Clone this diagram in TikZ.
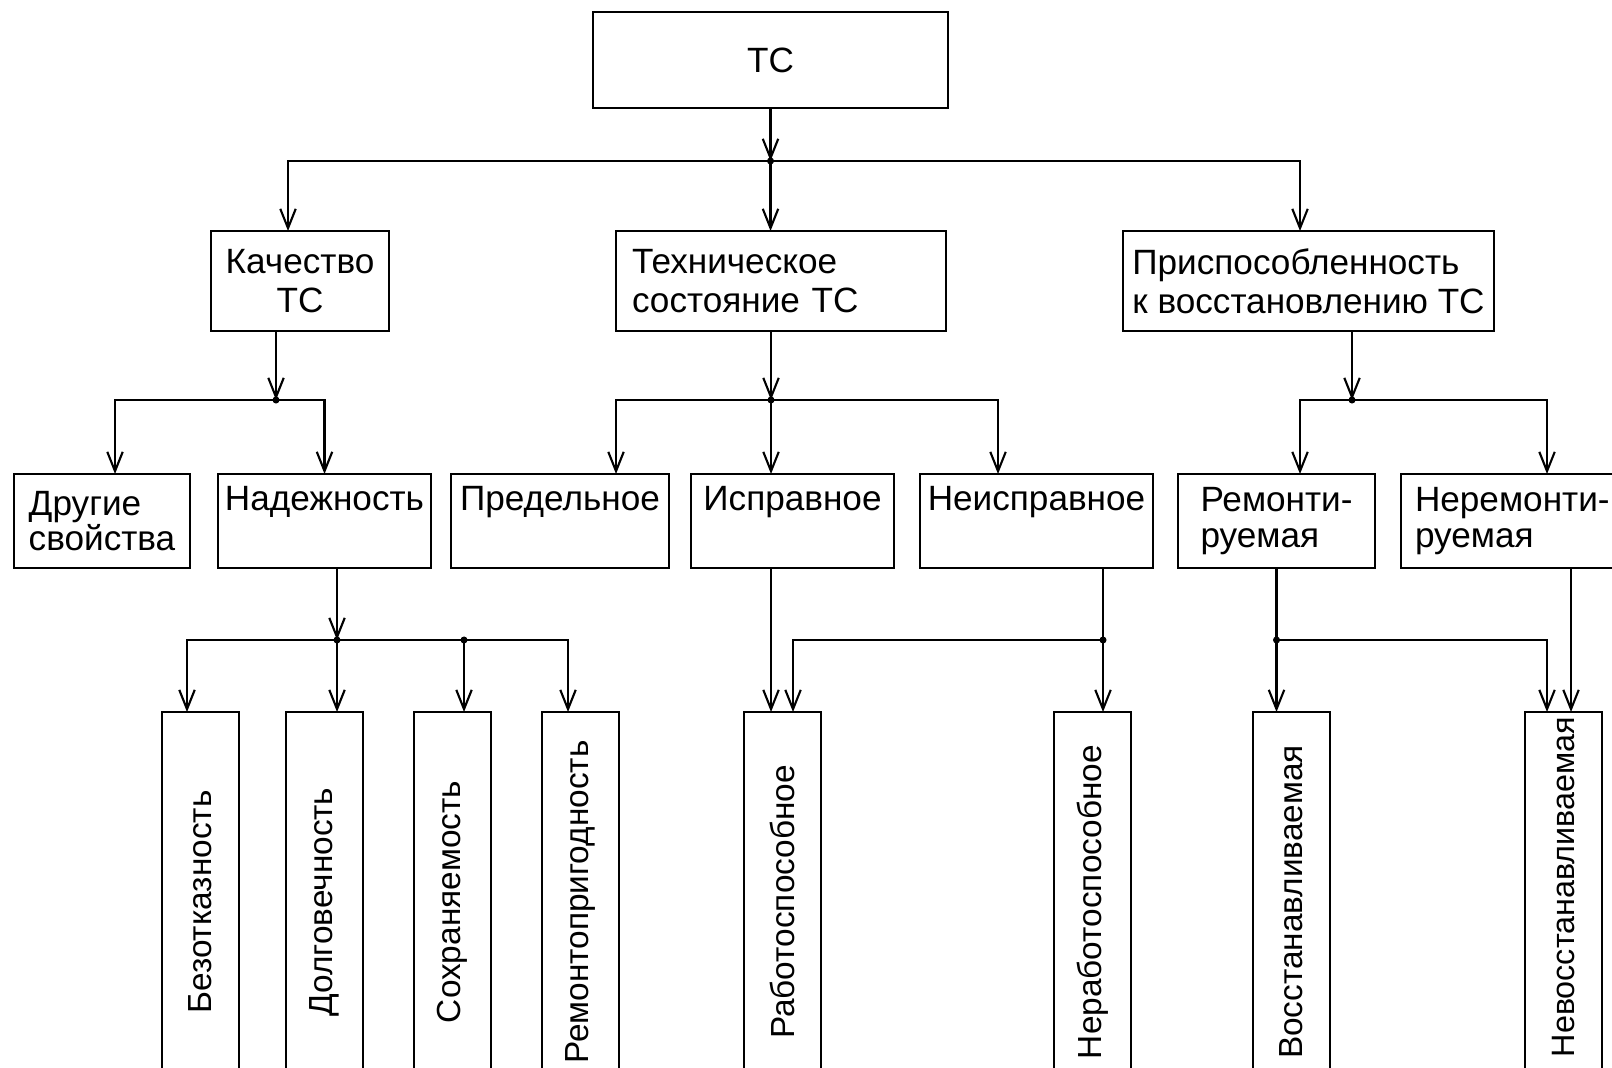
\documentclass[tikz,border=0pt]{standalone}
\usepackage{fontspec}
\setmainfont{Liberation Sans}
\usetikzlibrary{positioning,arrows.meta}

\begin{document}
\begin{tikzpicture}[
    blok/.style={draw, line width=0.6pt, inner sep=0pt, outer sep=0pt, font=\fontsize{10}{11}\selectfont},
    uroven2/.style={blok, minimum height=1cm},
    uroven3/.style={blok, minimum height=0.94cm, font=\fontsize{10}{10}\selectfont},
    stolb/.style={blok, minimum width=0.77cm, minimum height=3.8cm, font=\fontsize{9.5}{10}\selectfont},
    strelka/.style={line width=0.6pt, -{Straight Barb[length=5.5pt,width=4.4pt]}}
]
    \useasboundingbox (0,0) rectangle (16.12,10.67);

    % Top node
    \node [blok, minimum width=3.55cm, minimum height=0.96cm] (ts) at (7.705,10.07) {ТС};

    % Second level - positioned below top node
    \node [uroven2, minimum width=1.78cm, align=center, below left=1.23cm and 2.04cm of ts] (kach) {Качество\\ТС};
    \node [uroven2, text width=2.98cm, inner xsep=0.16cm, align=left, right=2.27cm of kach] (tech) {Техническое\\состояние ТС};
    \node [uroven2, minimum width=3.71cm, align=left, right=1.77cm of tech] (prisp) {Приспособленность\\к восстановлению ТС};

    % Third level - a row of boxes
    \node [uroven3, minimum width=1.76cm, align=left, below left=1.43cm and 0.21cm of kach] (drug) {Другие\\свойства};
    \node [uroven3, minimum width=2.13cm, align=center, right=0.28cm of drug] (nadezh) {Надежность\\\strut};
    \node [uroven3, minimum width=2.18cm, align=center, right=0.20cm of nadezh] (predel) {Предельное\\\strut};
    \node [uroven3, minimum width=2.03cm, align=center, right=0.22cm of predel] (isprav) {Исправное\\\strut};
    \node [uroven3, minimum width=2.33cm, align=center, right=0.26cm of isprav] (neisprav) {Неисправное\\\strut};
    \node [uroven3, minimum width=1.97cm, align=left, right=0.25cm of neisprav] (remont) {Ремонти-\\руемая};
    \node [uroven3, text width=1.97cm, inner xsep=0.14cm, align=left, right=0.26cm of remont] (neremont) {Неремонти-\\руемая};

    % Bottom level - tall boxes with turned text
    \node [stolb, below=1.44cm of nadezh] (dolg) {\rotatebox{90}{Долговечность}};
    \node [stolb, left=0.47cm of dolg] (bezot) {\rotatebox{90}{Безотказность}};
    \node [stolb, right=0.51cm of dolg] (sokhr) {\rotatebox{90}{Сохраняемость}};
    \node [stolb, right=0.51cm of sokhr] (remontopr) {\rotatebox{90}{Ремонтопригодность}};
    \node [stolb, right=1.25cm of remontopr] (rabot) {\rotatebox{90}{Работоспособное}};
    \node [stolb, right=2.33cm of rabot] (nerabot) {\rotatebox{90}{Неработоспособное}};
    \node [stolb, right=1.22cm of nerabot] (vosst) {\rotatebox{90}{Восстанавливаемая}};
    \node [stolb, font=\fontsize{9.2}{10}\selectfont, right=1.95cm of vosst] (nevosst) {\rotatebox{90}{\hspace{0.3cm}Невосстанавливаемая}};

    % Branch points on the buses
    \coordinate (j0) at ([yshift=-0.53cm]ts.south);
    \coordinate (j1) at ([xshift=-0.24cm, yshift=-0.69cm]kach.south);
    \coordinate (j2) at ([xshift=-0.10cm, yshift=-0.69cm]tech.south);
    \coordinate (j3) at ([xshift=0.435cm, yshift=-0.69cm]prisp.south);
    \coordinate (j4) at ([xshift=0.125cm, yshift=-0.72cm]nadezh.south);
    \coordinate (j5) at ([xshift=1.27cm]j4);
    \coordinate (j6) at ([xshift=0.665cm, yshift=-0.72cm]neisprav.south);
    \coordinate (j7) at ([yshift=-0.72cm]remont.south);
    \coordinate (r1) at ([xshift=-0.115cm]rabot.north);
    \coordinate (r2) at ([xshift=0.075cm]nevosst.north);

    % TC to the second level
    \draw [strelka] (ts) -- (j0);
    \draw [strelka] (j0) -| ([xshift=-0.12cm]kach.north);
    \draw [strelka] (j0) -- (tech.north -| j0);
    \draw [strelka] (j0) -| ([xshift=-0.085cm]prisp.north);

    % Second level to the third
    \draw [strelka] (kach.south -| j1) -- (j1);
    \draw [strelka] (j1) -| ([xshift=0.13cm]drug.north);
    \draw [strelka] (j1) -| (nadezh.north);
    \draw [strelka] (tech.south -| j2) -- (j2);
    \draw [strelka] (j2) -| (tech.west |- predel.north);
    \draw [strelka] (j2) -- (isprav.north -| j2);
    \draw [strelka] (j2) -| ([xshift=-0.385cm]neisprav.north);
    \draw [strelka] (prisp.south -| j3) -- (j3);
    \draw [strelka] (j3) -| ([xshift=0.235cm]remont.north);
    \draw [strelka] (j3) -| ([xshift=0.335cm]neremont.north);

    % Third level to the bottom
    \draw [strelka] (nadezh.south -| j4) -- (j4);
    \draw [strelka] (j4) -| ([xshift=-0.135cm]bezot.north);
    \draw [strelka] (j4) -- (dolg.north -| j4);
    \draw [strelka] (j5) -- (sokhr.north -| j5);
    \draw [strelka] (j4) -| ([xshift=-0.125cm]remontopr.north);
    \draw [strelka] (isprav.south -| r1) -- (r1);
    \draw [strelka] (neisprav.south -| j6) -- (nerabot.north -| j6);
    \draw [strelka] (j6) -| ([xshift=0.105cm]rabot.north);
    \draw [strelka] (remont.south) -- (vosst.north -| remont.south);
    \draw [strelka] (j7) -| ([xshift=-0.165cm]nevosst.north);
    \draw [strelka] (neremont.south -| r2) -- (r2);

    % Dots at the branch points
    \foreach \j in {j0,j1,j2,j3,j4,j5,j6,j7}
        \fill (\j) circle (1pt);
\end{tikzpicture}
\end{document}
